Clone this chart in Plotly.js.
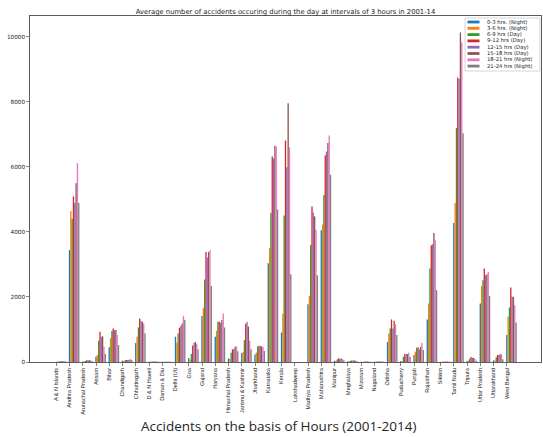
<!DOCTYPE html>
<html><head><meta charset="utf-8">
<script src="https://cdn.plot.ly/plotly-3.0.1.min.js"></script>
<style>html,body{margin:0;padding:0;background:#fff;}#chart{width:543px;height:437px;}</style>
</head><body><div id="chart"></div>
<script>
const states = ["A & N Islands","Andhra Pradesh","Arunachal Pradesh","Assam","Bihar","Chandigarh","Chhattisgarh","D & N Haveli","Daman & Diu","Delhi (Ut)","Goa","Gujarat","Haryana","Himachal Pradesh","Jammu & Kashmir","Jharkhand","Karnataka","Kerala","Lakshadweep","Madhya Pradesh","Maharashtra","Manipur","Meghalaya","Mizoram","Nagaland","Odisha","Puducherry","Punjab","Rajasthan","Sikkim","Tamil Nadu","Tripura","Uttar Pradesh","Uttarakhand","West Bengal"];

const seriesNames = ["0-3 hrs. (Night)","3-6 hrs. (Night)","6-9 hrs (Day)","9-12 hrs (Day)","12-15 hrs (Day)","15-18 hrs (Day)","18-21 hrs (Night)","21-24 hrs (Night)"];
const seriesColors = ["#1f77b4","#ff7f0e","#2ca02c","#d62728","#9467bd","#8c564b","#e377c2","#7f7f7f"];

const h0_3   = [8,3440,12,165,450,40,585,6,4,777,125,1411,777,112,275,230,3035,905,1,1779,4050,40,20,5,8,613,30,215,1309,5,4274,30,1800,50,830];
const h3_6   = [10,4640,12,215,735,30,777,8,5,600,70,1655,961,92,315,290,3500,1480,1,2035,4233,30,20,5,8,879,20,317,1800,5,4888,45,2331,40,1390];
const h6_9   = [15,4407,30,655,951,50,1063,12,6,879,250,2536,1237,286,675,480,4580,4505,1,3598,5132,80,35,10,15,1033,164,440,2873,8,7198,100,2515,143,1678];
const h9_12  = [20,5092,50,930,1033,60,1339,15,8,1053,505,3384,1237,389,1180,500,6319,6810,2,4785,6360,110,45,12,18,1309,245,450,3589,12,8752,150,2873,215,2291];
const h12_15 = [25,4887,50,777,982,60,1258,15,8,1104,593,3211,1207,400,1230,490,6258,5991,2,4601,6472,100,45,12,18,1033,245,389,3620,12,8700,130,2669,215,2003];
const h15_18 = [28,5500,55,790,982,70,1237,18,9,1186,618,3384,1288,470,1090,480,6647,7954,2,4478,6738,110,50,12,18,1268,245,470,3967,12,10132,120,2699,235,2003];
const h18_21 = [25,6114,50,470,828,90,1186,15,8,1420,560,3436,1493,480,650,460,6626,6605,2,4070,6963,90,40,10,15,1166,286,593,3742,10,9826,90,2771,235,1748];
const h21_24 = [20,4887,30,245,521,60,879,10,5,1300,395,2340,1063,330,390,340,4693,2700,1,2669,5757,50,25,8,10,828,150,368,2209,8,7034,40,2025,82,1217];

const seriesValues = [h0_3,h3_6,h6_9,h9_12,h12_15,h15_18,h18_21,h21_24];

const W = 543, H = 437, ML = 30, MR = 2, MT = 16, MB = 75;
const pw = W - ML - MR, ph = H - MT - MB;
const px2x = p => (p - ML) / pw;
const px2y = p => (H - MB - p) / ph;

const traces = seriesValues.map((vals, k) => ({
  type: 'bar', x: states, y: vals, name: seriesNames[k],
  marker: {color: seriesColors[k], line: {width: 0}},
  width: 0.1, offset: -0.05 + 0.1 * k,
  showlegend: false
}));

// manual matplotlib-style legend
const shapes = [{
  type: 'rect', xref: 'paper', yref: 'paper',
  x0: px2x(465), x1: px2x(540), y0: px2y(71), y1: px2y(18),
  line: {color: '#cccccc', width: 0.8}, fillcolor: 'rgba(255,255,255,0.85)', layer: 'above'
}];
const annotations = [];
seriesNames.forEach((nm, k) => {
  const yc = 22 + 6.3 * k;
  shapes.push({type: 'rect', xref: 'paper', yref: 'paper',
    x0: px2x(467.5), x1: px2x(479.5), y0: px2y(yc + 1.4), y1: px2y(yc - 1.4),
    line: {width: 0}, fillcolor: seriesColors[k], layer: 'above'});
  annotations.push({xref: 'paper', yref: 'paper', x: px2x(485), y: px2y(yc),
    xanchor: 'left', yanchor: 'middle', showarrow: false, text: nm,
    font: {family: 'DejaVu Sans', size: 5.3, color: '#222'}});
});
annotations.push({xref: 'paper', yref: 'paper', x: px2x(278.5), y: px2y(426),
  xanchor: 'center', yanchor: 'middle', showarrow: false,
  text: 'Accidents on the basis of Hours (2001-2014)',
  font: {family: 'Open Sans', size: 13.5, color: '#262626'}});

const layout = {
  width: W, height: H,
  margin: {l: ML, r: MR, t: MT, b: MB, pad: 0},
  paper_bgcolor: '#ffffff', plot_bgcolor: '#ffffff',
  barmode: 'overlay',
  title: {text: 'Average number of accidents occuring during the day at intervals of 3 hours in 2001-14',
    font: {family: 'DejaVu Sans', size: 6.8, color: '#222'},
    x: 0.5, xref: 'paper', xanchor: 'center', y: 1 - 11.5 / H, yanchor: 'middle'},
  xaxis: {type: 'category', range: [-1.98, 36.58], autorange: false,
    tickmode: 'linear', tick0: 0, dtick: 1,
    tickangle: -90, ticks: 'outside', ticklen: 3, tickwidth: 0.6, tickcolor: '#333',
    tickfont: {family: 'Liberation Sans Narrow, Liberation Sans', size: 5.5, color: '#222'},
    showline: true, mirror: true, linecolor: '#333', linewidth: 0.8,
    showgrid: false, zeroline: false, fixedrange: true},
  yaxis: {range: [0, 10640], autorange: false,
    tickmode: 'array', tickvals: [0, 2000, 4000, 6000, 8000, 10000],
    ticktext: ['0', '2000', '4000', '6000', '8000', '10000'],
    ticks: 'outside', ticklen: 3, tickwidth: 0.6, tickcolor: '#333',
    tickfont: {family: 'DejaVu Sans', size: 5.7, color: '#222'},
    showline: true, mirror: true, linecolor: '#333', linewidth: 0.8,
    showgrid: false, zeroline: false, fixedrange: true},
  shapes: shapes,
  annotations: annotations
};

Plotly.newPlot('chart', traces, layout, {displayModeBar: false, staticPlot: true});
</script>
</body></html>
